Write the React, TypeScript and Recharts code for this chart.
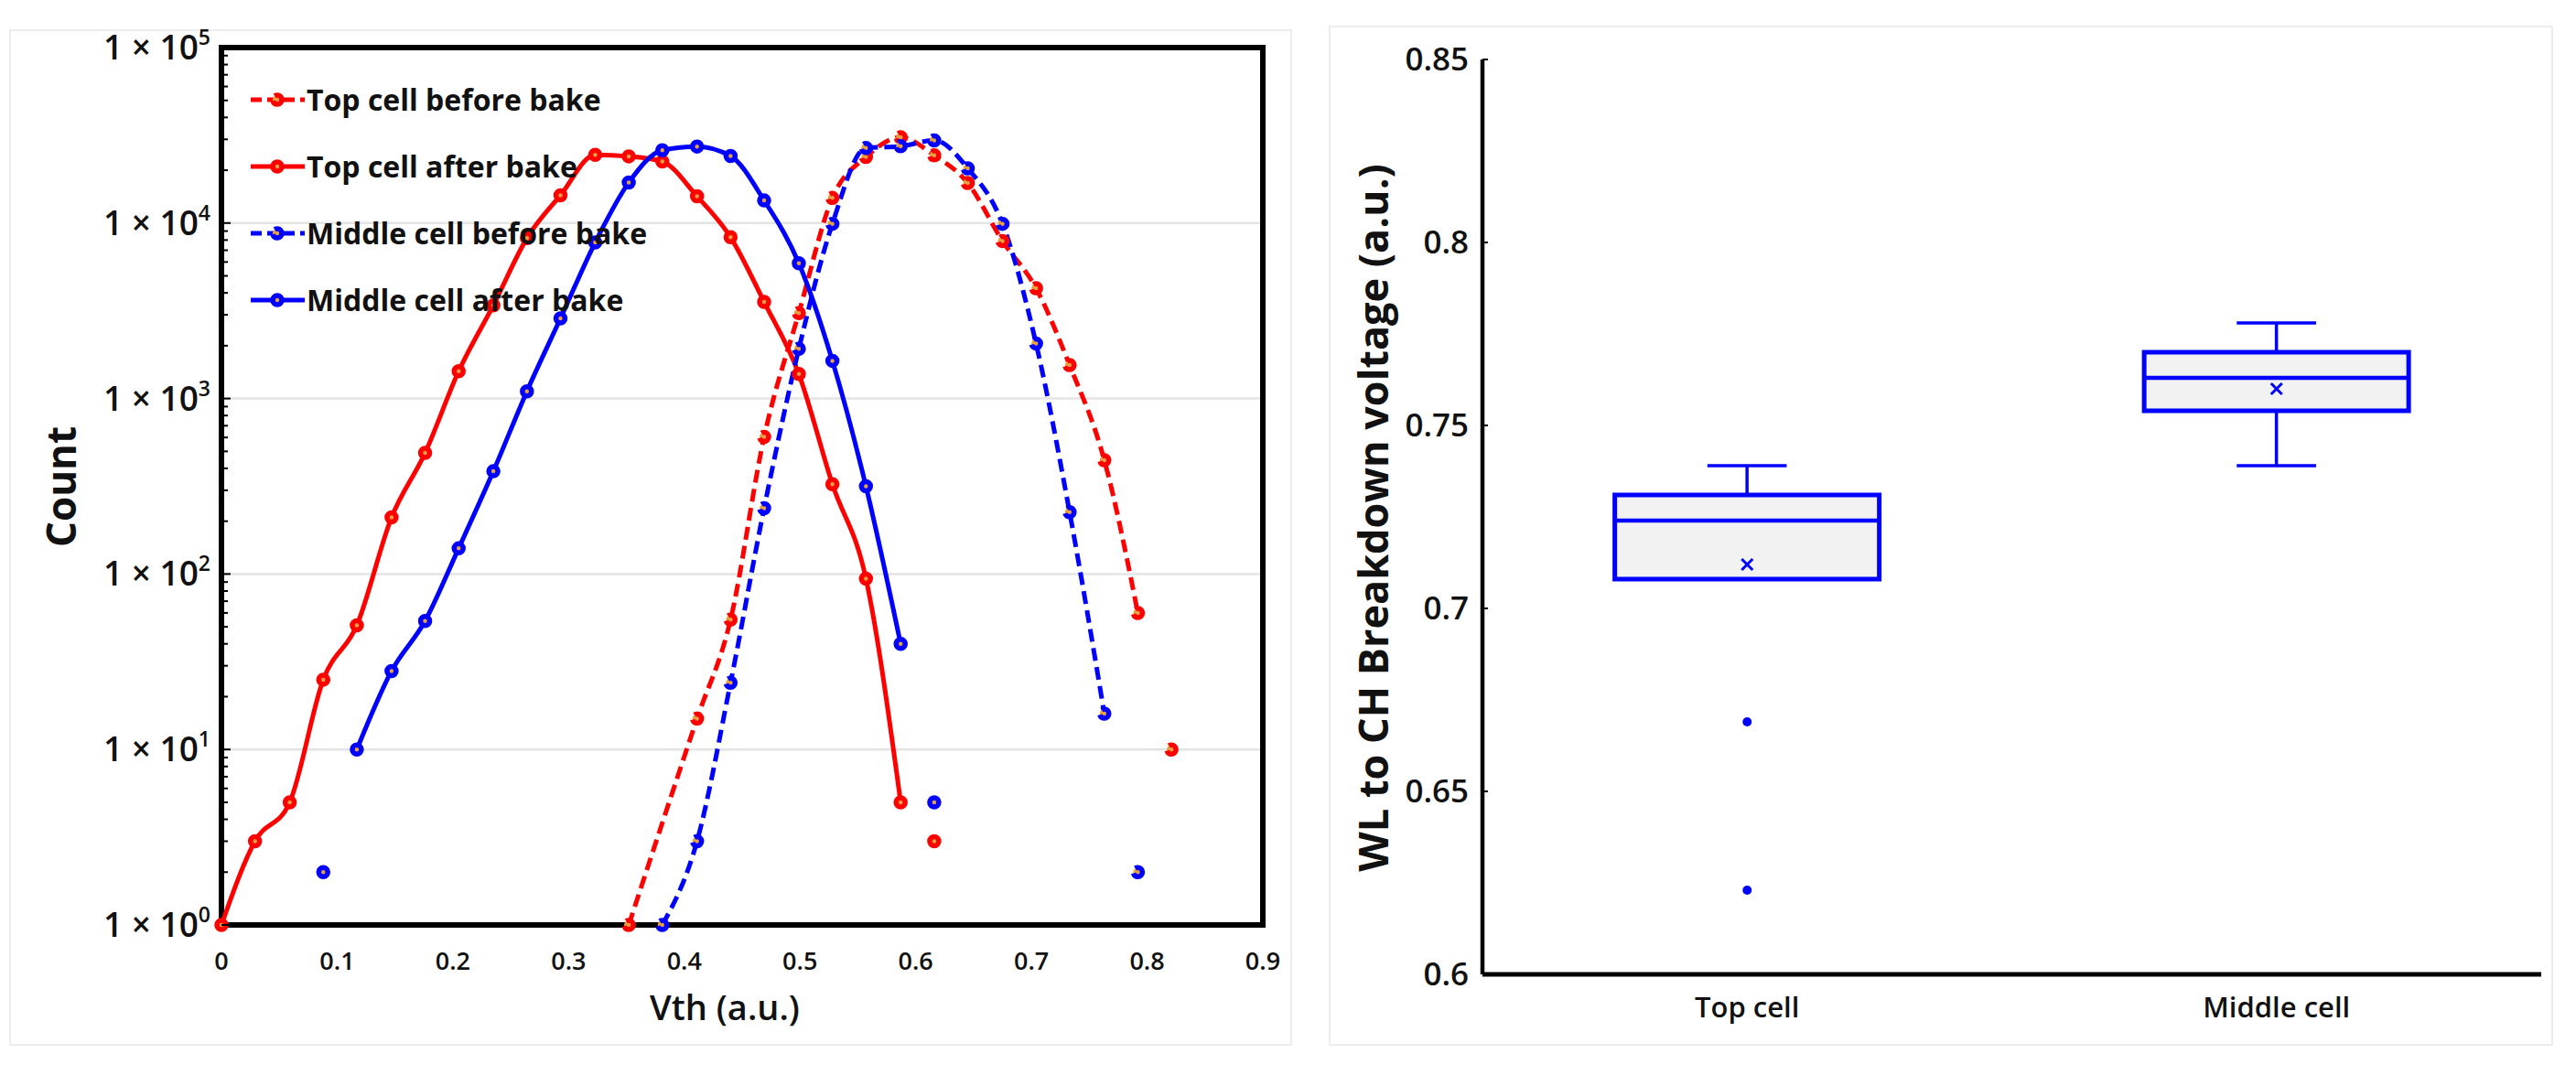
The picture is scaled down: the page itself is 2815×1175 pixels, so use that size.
import React from 'react';
import {
  LineChart,
  ComposedChart,
  Line,
  Bar,
  XAxis,
  YAxis,
  CartesianGrid,
  ReferenceArea,
  Legend,
} from 'recharts';

// Vth distribution (log counts) + WL-CH breakdown box plot

const FONT = "'Open Sans', 'Noto Sans', sans-serif";
const RED = '#FF0000';
const BLUE = '#0000FF';
const CORE = '#E8A040';

// ---- left panel data ----
const VTH = [
  0, 0.029, 0.059, 0.088, 0.117, 0.147, 0.176, 0.205, 0.235, 0.264, 0.293, 0.323, 0.352, 0.381, 0.411,
  0.44, 0.469, 0.499, 0.528, 0.557, 0.587, 0.616, 0.645, 0.675, 0.704, 0.733, 0.763, 0.792, 0.821,
];
const _ = null;
const TOP_BEFORE = [
  _, _, _, _, _, _, _, _, _, _, _, _, 1, _, 15, 55, 605, 3070, 13900, 23800, 30800, 24300, 16900, 7900,
  4250, 1550, 445, 60, _,
];
const TOP_AFTER = [
  1, 3, 5, 25, 51, 210, 490, 1430, 3400, 8200, 14400, 24500, 24000, 22400, 14200, 8300, 3550, 1380, 325,
  94, 5, _, _, _, _, _, _, _, _,
];
const MID_BEFORE = [
  _, _, _, _, _, _, _, _, _, _, _, _, _, 1, 3, 24, 237, 1920, 9900, 26800, 27400, 29600, 20500, 9900, 2060,
  225, 16, _, _,
];
const MID_AFTER = [
  _, _, _, _, 10, 28, 54, 140, 385, 1100, 2860, 7750, 17000, 26000, 27300, 24100, 13450, 5900, 1640, 316,
  40, _, _, _, _, _, _, _, _,
];
// single points not joined to the curves: [vth, count]
const TOP_BEFORE_STRAY: [number, number][] = [[0.821, 10]];
const TOP_AFTER_STRAY: [number, number][] = [[0.616, 3]];
const MID_BEFORE_STRAY: [number, number][] = [[0.792, 2]];
const MID_AFTER_STRAY: [number, number][] = [[0.088, 2], [0.616, 5]];

const X_TICKS = [0, 0.1, 0.2, 0.3, 0.4, 0.5, 0.6, 0.7, 0.8, 0.9];
const Y_DECADES = [1, 10, 100, 1000, 10000, 100000];
const MINOR_STEPS = [2, 3, 4, 5, 6, 7, 8, 9];

const SERIES = [
  { key: 'topBefore', name: 'Top cell before bake', color: RED, dashed: true, values: TOP_BEFORE, stray: TOP_BEFORE_STRAY },
  { key: 'topAfter', name: 'Top cell after bake', color: RED, dashed: false, values: TOP_AFTER, stray: TOP_AFTER_STRAY },
  { key: 'midBefore', name: 'Middle cell before bake', color: BLUE, dashed: true, values: MID_BEFORE, stray: MID_BEFORE_STRAY },
  { key: 'midAfter', name: 'Middle cell after bake', color: BLUE, dashed: false, values: MID_AFTER, stray: MID_AFTER_STRAY },
];

// ---- right panel data ----
const CELLS = ['Top cell', 'Middle cell'];
const WHISKER_LO = [0.708, 0.739];
const WHISKER_HI = [0.739, 0.778];
const Q1 = [0.708, 0.754];
const Q3 = [0.731, 0.770];
const MEDIAN = [0.724, 0.763];
const MEAN = [0.712, 0.760];
const OUTLIERS = [[0.669, 0.623], []];
const BV_TICKS = [0.6, 0.65, 0.7, 0.75, 0.8, 0.85];

const vthData = VTH.map((vth, i) => {
  const row: Record<string, number | null> = { vth };
  SERIES.forEach((s) => {
    row[s.key] = s.values[i];
    const hit = s.stray.find((p) => p[0] === vth);
    row[s.key + 'Stray'] = hit ? hit[1] : null;
  });
  return row;
});

const yTicks = Y_DECADES.flatMap((d, i) =>
  i === Y_DECADES.length - 1 ? [d] : [d, ...MINOR_STEPS.map((m) => m * d)]
);

const boxData = CELLS.map((cell, i) => ({
  cell,
  whisker: [WHISKER_LO[i], WHISKER_HI[i]],
  box: [Q1[i], Q3[i]],
  q1: Q1[i],
  q3: Q3[i],
  median: MEDIAN[i],
  mean: MEAN[i],
  out0: OUTLIERS[i][0] ?? null,
  out1: OUTLIERS[i][1] ?? null,
}));

const DASH = '14 7';
const DOT_DASH = '14 6';

const LogTick = ({ x, y, payload }: any) => {
  const v = payload.value;
  if (!Y_DECADES.includes(v)) {
    return <line x1={x} x2={x + 7} y1={y} y2={y} stroke="#000" strokeWidth={2} />;
  }
  const exp = Math.round(Math.log10(v));
  return (
    <g>
      <line x1={x} x2={x + 10} y1={y} y2={y} stroke="#000" strokeWidth={2} />
      <text x={x - 12} y={y} dy={13} textAnchor="end" fontFamily={FONT} fontSize={37} fontWeight={600} fill="#111">
        1 × 10<tspan fontSize={23} dy={-16}>{exp}</tspan>
      </text>
    </g>
  );
};

const VthTick = ({ x, y, payload }: any) => (
  <text x={x} y={y + 49} textAnchor="middle" fontFamily={FONT} fontSize={27} fontWeight={600} fill="#111">
    {payload.value}
  </text>
);

const BvTick = ({ x, y, payload }: any) => (
  <g>
    <line x1={x} x2={x + 6} y1={y} y2={y} stroke="#000" strokeWidth={2} />
    <text x={x - 15} y={y} dy={12} textAnchor="end" fontFamily={FONT} fontSize={35} fontWeight={600} fill="#111">
      {payload.value}
    </text>
  </g>
);

const CellTick = ({ x, y, payload }: any) => (
  <text x={x} y={y + 47} textAnchor="middle" fontFamily={FONT} fontSize={31} fontWeight={600} fill="#111">
    {payload.value}
  </text>
);

const LegendBox = ({ payload }: any) => {
  // keep the series order, not the alphabetical one
  const items = SERIES.filter((s) => (payload || []).some((e: any) => e.value === s.name));
  return (
    <div>
      {items.map((s) => (
        <div key={s.key} style={{ display: 'flex', alignItems: 'center', height: 73 }}>
          <svg width={62} height={20}>
            <line x1={1} x2={60} y1={10} y2={10} stroke={s.color} strokeWidth={5} strokeDasharray={s.dashed ? '12 6' : undefined} />
            <circle cx={30} cy={10} r={5} stroke={s.color} strokeWidth={5.5} fill={CORE} strokeDasharray={s.dashed ? DOT_DASH : undefined} />
          </svg>
          <span style={{ fontFamily: FONT, fontSize: 32, fontWeight: 700, color: '#111', whiteSpace: 'nowrap' }}>{s.name}</span>
        </div>
      ))}
    </div>
  );
};

const WhiskerShape = (props: any) => {
  const { x, y, width, height } = props;
  const top = Math.min(y, y + height);
  const h = Math.abs(height);
  const cx = x + width / 2;
  const cw = width * 0.3;
  return (
    <g>
      <line x1={cx} x2={cx} y1={top} y2={top + h} stroke={BLUE} strokeWidth={3.5} />
      <line x1={cx - cw / 2} x2={cx + cw / 2} y1={top} y2={top} stroke={BLUE} strokeWidth={3.5} />
      <line x1={cx - cw / 2} x2={cx + cw / 2} y1={top + h} y2={top + h} stroke={BLUE} strokeWidth={3.5} />
    </g>
  );
};

const BoxShape = (props: any) => {
  const { x, y, width, height, payload } = props;
  const top = Math.min(y, y + height);
  const h = Math.abs(height);
  const my = top + (h * (payload.q3 - payload.median)) / (payload.q3 - payload.q1);
  return (
    <g>
      <rect x={x} y={top} width={width} height={h} fill="#F2F2F2" stroke={BLUE} strokeWidth={5} />
      <line x1={x} x2={x + width} y1={my} y2={my} stroke={BLUE} strokeWidth={4.5} />
    </g>
  );
};

const MeanMark = (props: any) => {
  const { cx, cy, index } = props;
  if (cx == null || cy == null || isNaN(cy)) return <g key={`m-${index}`} />;
  const s = 6;
  return (
    <g key={`m-${index}`}>
      <line x1={cx - s} x2={cx + s} y1={cy - s} y2={cy + s} stroke={BLUE} strokeWidth={3} />
      <line x1={cx - s} x2={cx + s} y1={cy + s} y2={cy - s} stroke={BLUE} strokeWidth={3} />
    </g>
  );
};

const frame = (left: number, top: number, width: number, height: number): React.CSSProperties => ({
  position: 'absolute',
  left,
  top,
  width,
  height,
  border: '2px solid #EDEDED',
  boxSizing: 'border-box',
});

const axisTitle = (cx: number, cy: number, size: number, rotate: boolean): React.CSSProperties => ({
  position: 'absolute',
  left: cx,
  top: cy,
  transform: `translate(-50%, -50%)${rotate ? ' rotate(-90deg)' : ''}`,
  whiteSpace: 'nowrap',
  fontFamily: FONT,
  fontSize: size,
  fontWeight: 700,
  color: '#111',
  lineHeight: 1,
});

export default function App() {
  return (
    <div style={{ position: 'absolute', left: 0, top: 0, width: 2815, height: 1175, background: '#fff' }}>
      <div style={frame(10, 32, 1402, 1111)} />
      <div style={frame(1452, 28, 1338, 1115)} />

      <div style={{ position: 'absolute', left: 10, top: 0 }}>
        <LineChart width={1402} height={1143} data={vthData} margin={{ top: 52, right: 32, bottom: 72, left: 112 }}>
          <CartesianGrid vertical={false} horizontalValues={[10, 100, 1000, 10000]} stroke="#E4E4E4" strokeWidth={2.5} />
          <XAxis
            dataKey="vth"
            type="number"
            domain={[0, 0.9]}
            ticks={X_TICKS}
            interval={0}
            height={60}
            tickSize={0}
            tickMargin={0}
            tickLine={false}
            axisLine={false}
            tick={<VthTick />}
          />
          <YAxis
            scale="log"
            domain={[1, 100000]}
            ticks={yTicks}
            interval={0}
            width={120}
            tickSize={0}
            tickMargin={0}
            tickLine={false}
            axisLine={false}
            tick={<LogTick />}
          />
          <ReferenceArea x1={0} x2={0.9} y1={1} y2={100000} fill="none" stroke="#000" strokeWidth={6} ifOverflow="visible" />
          {SERIES.map((s) => (
            <Line
              key={s.key}
              dataKey={s.key}
              name={s.name}
              type="monotone"
              stroke={s.color}
              strokeWidth={5}
              strokeDasharray={s.dashed ? DASH : undefined}
              connectNulls
              dot={{ r: 5, stroke: s.color, strokeWidth: 5.5, fill: CORE, strokeDasharray: s.dashed ? DOT_DASH : undefined }}
              activeDot={false}
              isAnimationActive={false}
            />
          ))}
          {SERIES.map((s) => (
            <Line
              key={s.key + 'Stray'}
              dataKey={s.key + 'Stray'}
              legendType="none"
              stroke="none"
              connectNulls={false}
              dot={{ r: 5, stroke: s.color, strokeWidth: 5.5, fill: CORE, strokeDasharray: s.dashed ? DOT_DASH : undefined }}
              activeDot={false}
              isAnimationActive={false}
            />
          ))}
          <Legend
            layout="vertical"
            align="center"
            verticalAlign="middle"
            wrapperStyle={{ left: 263, top: 72, width: 560 }}
            content={<LegendBox />}
          />
        </LineChart>
      </div>

      <div style={{ position: 'absolute', left: 1452, top: 0 }}>
        <ComposedChart
          width={1338}
          height={1143}
          data={boxData}
          margin={{ top: 65, right: 13, bottom: 28, left: 78 }}
          barCategoryGap="25%"
        >
          <XAxis
            xAxisId="cat"
            dataKey="cell"
            height={50}
            tickSize={0}
            tickMargin={0}
            tickLine={false}
            axisLine={{ stroke: '#000', strokeWidth: 5 }}
            tick={<CellTick />}
          />
          <XAxis
            xAxisId="top"
            orientation="top"
            dataKey="cell"
            height={0}
            tick={false}
            tickLine={false}
            axisLine={{ stroke: '#000', strokeWidth: 4.5 }}
          />
          <YAxis
            domain={[0.6, 0.85]}
            ticks={BV_TICKS}
            interval={0}
            width={90}
            tickSize={0}
            tickMargin={0}
            tickLine={false}
            axisLine={{ stroke: '#000', strokeWidth: 4.5 }}
            tick={<BvTick />}
          />
          <YAxis
            yAxisId="right"
            orientation="right"
            domain={[0.6, 0.85]}
            width={0}
            tick={false}
            tickLine={false}
            axisLine={{ stroke: '#000', strokeWidth: 4.5 }}
          />
          <Bar xAxisId="top" dataKey="whisker" shape={<WhiskerShape />} isAnimationActive={false} />
          <Bar xAxisId="cat" dataKey="box" shape={<BoxShape />} isAnimationActive={false} />
          <Line
            xAxisId="cat"
            dataKey="mean"
            stroke="none"
            dot={(p: any) => <MeanMark key={`mean-${p.index}`} {...p} />}
            activeDot={false}
            isAnimationActive={false}
          />
          <Line
            xAxisId="cat"
            dataKey="out0"
            stroke="none"
            dot={{ r: 5, fill: BLUE, stroke: 'none' }}
            activeDot={false}
            isAnimationActive={false}
          />
          <Line
            xAxisId="cat"
            dataKey="out1"
            stroke="none"
            dot={{ r: 5, fill: BLUE, stroke: 'none' }}
            activeDot={false}
            isAnimationActive={false}
          />
        </ComposedChart>
      </div>

      <div style={axisTitle(66, 532, 44, true)}>Count</div>
      <div style={{ ...axisTitle(792, 1100, 38, false), fontWeight: 600 }}>Vth (a.u.)</div>
      <div style={axisTitle(1499, 566, 45, true)}>WL to CH Breakdown voltage (a.u.)</div>
    </div>
  );
}
